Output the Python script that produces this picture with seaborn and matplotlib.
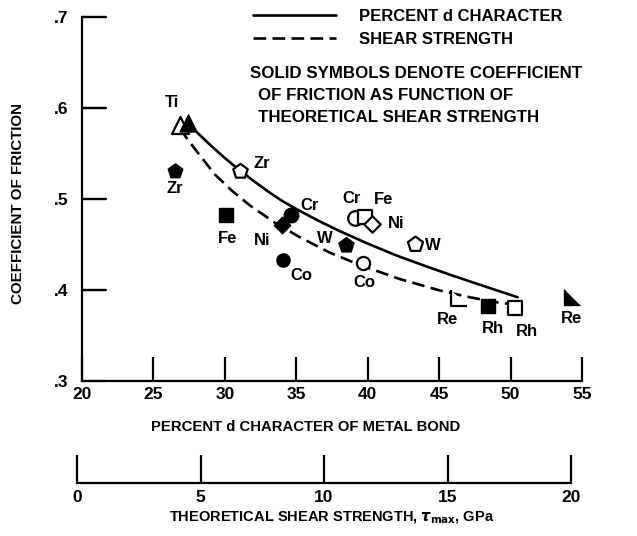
import matplotlib
matplotlib.use("Agg")
import matplotlib.pyplot as plt
import seaborn as sns
import pandas as pd

# ---------------- data ----------------
open_el = ["Ti", "Zr", "Cr", "Fe", "Ni", "W", "Co", "Re", "Rh"]
open_x = [26.85, 31.05, 39.1, 39.8, 40.3, 43.3, 39.65, 46.4, 50.3]
open_y = [0.581, 0.531, 0.479, 0.480, 0.473, 0.451, 0.430, 0.391, 0.380]

solid_el = ["Ti", "Zr", "Fe", "Cr", "Ni", "W", "Co", "Rh", "Re"]
solid_x = [27.4, 26.5, 30.1, 34.6, 34.0, 38.5, 34.05, 48.4, 54.3]
solid_y = [0.584, 0.531, 0.482, 0.482, 0.471, 0.449, 0.433, 0.382, 0.392]

pct_curve_x = [27.3, 28.0, 29.0, 30.0, 31.0, 32.0, 33.0, 34.0, 35.0, 36.5,
               38.0, 40.0, 42.0, 44.0, 46.0, 48.0, 50.5]
pct_curve_y = [0.585, 0.574, 0.559, 0.545, 0.532, 0.520, 0.5085, 0.498, 0.489,
               0.4765, 0.465, 0.451, 0.438, 0.4265, 0.4155, 0.405, 0.392]

shear_curve_x = [26.85, 28.0, 29.3, 30.5, 31.75, 33.5, 35.25, 37.35, 39.45,
                 42.25, 45.05, 47.15, 49.2, 50.3]
shear_curve_y = [0.577, 0.553, 0.527, 0.509, 0.493, 0.474, 0.458, 0.441, 0.4275,
                 0.412, 0.3995, 0.392, 0.386, 0.384]

x_ticks = [20, 25, 30, 35, 40, 45, 50, 55]
y_ticks = [0.3, 0.4, 0.5, 0.6, 0.7]
y_ticklabels = [".3", ".4", ".5", ".6", ".7"]
tau_ticks = [0, 5, 10, 15, 20]

legend_labels = ["PERCENT d CHARACTER", "SHEAR STRENGTH"]
note_lines = ["SOLID SYMBOLS DENOTE COEFFICIENT",
              "OF FRICTION AS FUNCTION OF",
              "THEORETICAL SHEAR STRENGTH"]

# ---------------- styles ----------------
tri_right = [(-1, 1), (-1, -1), (1, -1)]
marker_of = {"Ti": "^", "Zr": "p", "Fe": "s", "Cr": "o", "Ni": "D",
             "W": "p", "Co": "o", "Rh": "s", "Re": tri_right}
size_of = {"Ti": 150, "Zr": 120, "Fe": 90, "Cr": 110, "Ni": 70,
           "W": 130, "Co": 90, "Rh": 110, "Re": 120}
# label offsets in pixels (dx, dy) relative to marker
open_off = {"Ti": (-8, 23), "Zr": (22, 7), "Cr": (-3, 20), "Fe": (19, 18),
            "Ni": (24, 0), "W": (18, -2), "Co": (2, -20), "Re": (-12, -21),
            "Rh": (12, -23)}
solid_off = {"Ti": None, "Zr": (0, -18), "Fe": (1, -23), "Cr": (19, 10),
             "Ni": (-20, -15), "W": (-21, 7), "Co": (19, -16), "Rh": (5, -22),
             "Re": (-1, -21)}

sns.set_style("white")
plt.rcParams["font.family"] = ["Liberation Sans", "DejaVu Sans"]
plt.rcParams["mathtext.fontset"] = "dejavusans"
for k in ["text.color", "axes.labelcolor", "xtick.color", "ytick.color",
          "axes.edgecolor"]:
    plt.rcParams[k] = "black"
plt.rcParams["font.weight"] = "bold"
plt.rcParams["axes.labelweight"] = "bold"
plt.rcParams["xtick.bottom"] = True
plt.rcParams["ytick.left"] = True

fig = plt.figure(figsize=(6.37, 5.36), dpi=100)
ax = fig.add_axes([82 / 637, 1 - 381 / 536, 500 / 637, 364 / 536])

df_pct = pd.DataFrame({"x": pct_curve_x, "y": pct_curve_y})
df_shear = pd.DataFrame({"x": shear_curve_x, "y": shear_curve_y})
sns.lineplot(data=df_pct, x="x", y="y", ax=ax, color="black", lw=1.9,
             sort=False, estimator=None, label=legend_labels[0])
sns.lineplot(data=df_shear, x="x", y="y", ax=ax, color="black", lw=1.9,
             sort=False, estimator=None, dashes=False, label=legend_labels[1],
             linestyle=(0, (4.8, 2.4)))

for el, x, y in zip(open_el, open_x, open_y):
    sns.scatterplot(x=[x], y=[y], ax=ax, marker=marker_of[el], s=size_of[el],
                    color="white", edgecolor="black", linewidth=1.6, zorder=3)
    off = open_off[el]
    ax.annotate(el, (x, y), xytext=off, textcoords="offset pixels",
                ha="center", va="center", fontsize=12, fontweight="bold")

for el, x, y in zip(solid_el, solid_x, solid_y):
    sns.scatterplot(x=[x], y=[y], ax=ax, marker=marker_of[el], s=size_of[el],
                    color="black", edgecolor="black", linewidth=1.0, zorder=4)
    off = solid_off[el]
    if off is not None:
        ax.annotate(el, (x, y), xytext=off, textcoords="offset pixels",
                    ha="center", va="center", fontsize=12, fontweight="bold")

ax.set_xlim(20, 55)
ax.set_ylim(0.3, 0.7)
ax.set_xticks(x_ticks)
ax.set_xticklabels([str(t) for t in x_ticks])
ax.set_yticks(y_ticks)
ax.set_yticklabels(y_ticklabels)
for s in ["top", "right"]:
    ax.spines[s].set_visible(False)
for s in ["left", "bottom"]:
    ax.spines[s].set_linewidth(1.6)
    ax.spines[s].set_color("black")
ax.xaxis.set_tick_params(which="major", bottom=True, direction="in",
                         length=17, width=1.6, labelsize=12.5, pad=4,
                         color="black", labelcolor="black")
ax.yaxis.set_tick_params(which="major", left=True, direction="in",
                         length=17, width=1.6, labelsize=12.5, pad=10,
                         color="black", labelcolor="black")
# reinforce the inward y tick marks (short segments at each y tick)
for yt in y_ticks[1:]:
    ax.axhline(yt, xmin=0, xmax=24 / 500, color="black", lw=1.6,
               clip_on=False, zorder=6)
for lab in ax.get_xticklabels() + ax.get_yticklabels():
    lab.set_fontweight("bold")
ax.grid(False)

ax.set_xlabel("PERCENT d CHARACTER OF METAL BOND", fontsize=10.7,
              fontweight="bold")
ax.xaxis.set_label_coords(306 / 637, 1 - 427 / 536, transform=fig.transFigure)
ax.xaxis.label.set_va("center")
ax.set_ylabel("COEFFICIENT OF FRICTION", fontsize=10.9, fontweight="bold")
ax.yaxis.set_label_coords(18 / 637, 1 - 203 / 536, transform=fig.transFigure)
ax.yaxis.label.set_va("center")

leg = ax.legend(loc="upper left", bbox_to_anchor=(253 / 637, 1 - 9 / 536),
                bbox_transform=fig.transFigure, frameon=False,
                handlelength=5.0, handletextpad=1.35, labelspacing=0.5,
                borderpad=0, borderaxespad=0,
                prop={"size": 12, "weight": "bold"})

note_pos = [(250, 73), (258, 95), (258, 117)]
for txt, (px, py) in zip(note_lines, note_pos):
    fig.text(px / 637, 1 - py / 536, txt, ha="left", va="center",
             fontsize=12.2, fontweight="bold")

# lower (shear strength) axis
ax2 = fig.add_axes([77 / 637, 1 - 483 / 536, 494 / 637, 0.0001])
ax2.set_xlim(0, 20)
ax2.set_xticks(tau_ticks)
ax2.set_xticklabels([str(t) for t in tau_ticks])
ax2.set_yticks([])
for s in ["top", "right", "left"]:
    ax2.spines[s].set_visible(False)
ax2.spines["bottom"].set_linewidth(1.6)
ax2.spines["bottom"].set_color("black")
ax2.xaxis.set_tick_params(which="major", bottom=True, direction="in",
                          length=20, width=1.6, labelsize=12.5, pad=5,
                          color="black", labelcolor="black")
for lab in ax2.get_xticklabels():
    lab.set_fontweight("bold")
ax2.patch.set_alpha(0)
ax2.set_xlabel(r"THEORETICAL SHEAR STRENGTH, $\tau_{\mathrm{max}}$, GPa",
               fontsize=10.5, fontweight="bold")
ax2.xaxis.set_label_coords(332 / 637, 1 - 518 / 536, transform=fig.transFigure)
ax2.xaxis.label.set_va("center")

fig.savefig("out.png", dpi=100)
